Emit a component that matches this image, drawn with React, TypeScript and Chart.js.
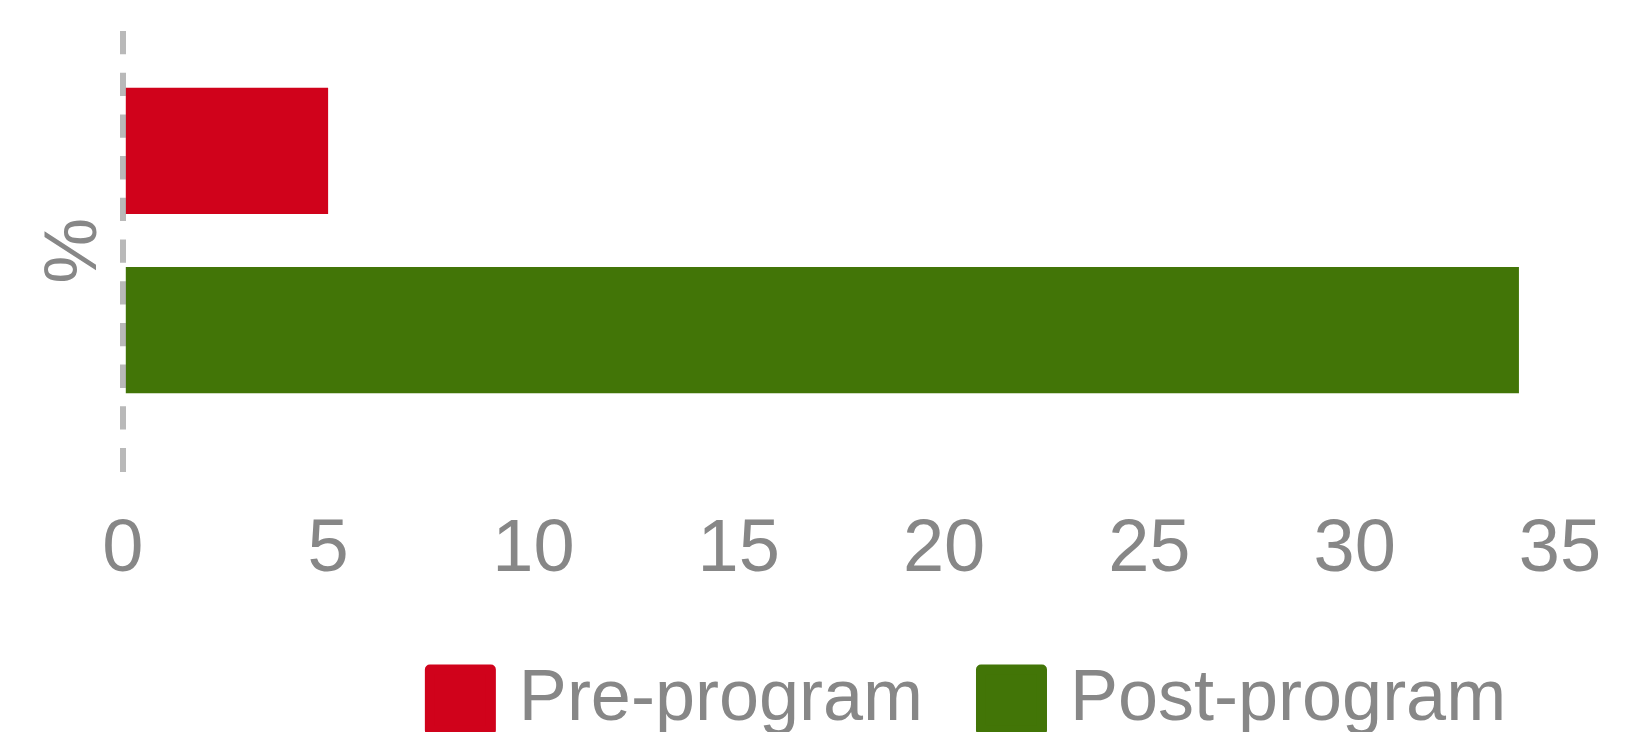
import React, { useEffect, useRef } from 'react';
import { Chart, registerables } from 'chart.js';

Chart.register(...registerables);

const CATEGORIES = ['%'];
const SERIES_NAMES = ['Pre-program', 'Post-program'];
const PRE_PROGRAM = [5];
const POST_PROGRAM = [34];
const X_TICKS = [0, 5, 10, 15, 20, 25, 30, 35];
const AXIS_TITLE = '% ';
const COLORS = ['#d0021b', '#427507'];

const FONT = "'Liberation Sans', Arial, Helvetica, sans-serif";
const TEXT = '#878787';

export default function App() {
  const ref = useRef<HTMLCanvasElement>(null);

  useEffect(() => {
    if (!ref.current) return;
    const legendShift = {
      id: 'legendShift',
      afterLayout(chart: any) {
        const lg = chart.legend;
        if (lg) {
          lg.left += 188;
          lg.right += 188;
        }
      },
    };
    const chart = new Chart(ref.current, {
      type: 'bar',
      data: {
        labels: CATEGORIES,
        datasets: [
          { label: SERIES_NAMES[0], data: PRE_PROGRAM, backgroundColor: COLORS[0], borderWidth: 0 },
          { label: SERIES_NAMES[1], data: POST_PROGRAM, backgroundColor: COLORS[1], borderWidth: 0 },
        ],
      },
      plugins: [legendShift],
      options: {
        indexAxis: 'y',
        responsive: true,
        maintainAspectRatio: false,
        animation: false,
        layout: { padding: { top: 23, right: 71, left: 0, bottom: 0 } },
        datasets: { bar: { categoryPercentage: 0.855, barPercentage: 0.705 } } as any,
        scales: {
          x: {
            type: 'linear',
            position: 'bottom',
            min: 0,
            max: 35,
            afterBuildTicks: (s: any) => {
              s.ticks = X_TICKS.map((v) => ({ value: v }));
            },
            afterFit: (s: any) => {
              s.height = 148;
            },
            ticks: {
              padding: 29,
              minRotation: 0,
              maxRotation: 0,
              autoSkip: false,
              color: TEXT,
              font: { family: FONT, size: 74, lineHeight: 1.335 },
            },
            grid: {
              color: (c: any) => (c.tick && c.tick.value === 0 ? 'rgba(128,128,128,0.55)' : 'rgba(0,0,0,0)'),
              lineWidth: 6,
              drawTicks: true,
              tickLength: 22,
              tickBorderDash: [],
              z: 1,
            },
            border: { display: false, dash: [23.3, 18.4] },
          },
          y: {
            type: 'category',
            grid: { display: false, drawTicks: false },
            border: { display: false },
            ticks: { display: false },
            title: {
              display: true,
              text: AXIS_TITLE,
              color: TEXT,
              font: { family: FONT, size: 74 },
              padding: { top: 23, bottom: 3 },
            },
          },
        },
        plugins: {
          tooltip: { enabled: false },
          legend: {
            position: 'bottom',
            align: 'center',
            labels: {
              usePointStyle: true,
              pointStyle: 'rect',
              boxWidth: 45,
              boxHeight: 61,
              padding: 66,
              color: TEXT,
              font: { family: FONT, size: 72 },
              generateLabels: (ch: any) =>
                ch.data.datasets.map((ds: any, i: number) => ({
                  text: ds.label,
                  fillStyle: ds.backgroundColor,
                  strokeStyle: ds.backgroundColor,
                  lineWidth: 10,
                  lineJoin: 'round',
                  pointStyle: 'rect',
                  hidden: false,
                  datasetIndex: i,
                  fontColor: TEXT,
                })),
            },
          },
        },
      } as any,
    });
    return () => chart.destroy();
  }, []);

  return (
    <div style={{ position: 'fixed', inset: 0, overflow: 'hidden', background: '#fff' }}>
      <div style={{ position: 'absolute', left: 8, top: 8, width: 1623, height: 738 }}>
        <canvas ref={ref} />
      </div>
    </div>
  );
}
